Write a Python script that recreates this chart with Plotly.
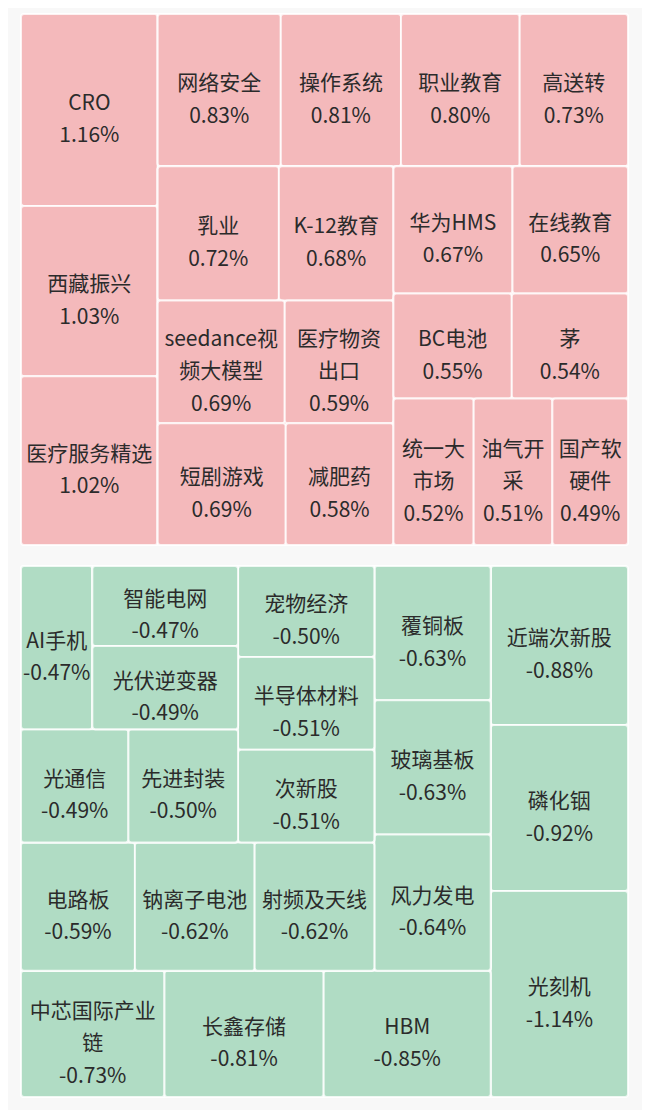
import plotly.graph_objects as go

# ---------------- data ----------------
top_names = ["CRO", "西藏振兴", "医疗服务精选", "网络安全", "操作系统", "职业教育", "高送转",
             "乳业", "K-12教育", "seedance视频大模型", "医疗物资出口", "短剧游戏", "减肥药",
             "华为HMS", "在线教育", "BC电池", "茅", "统一大市场", "油气开采", "国产软硬件"]
top_values = [1.16, 1.03, 1.02, 0.83, 0.81, 0.80, 0.73,
              0.72, 0.68, 0.69, 0.59, 0.69, 0.58,
              0.67, 0.65, 0.55, 0.54, 0.52, 0.51, 0.49]

bottom_names = ["AI手机", "智能电网", "光伏逆变器", "光通信", "先进封装", "宠物经济", "半导体材料",
                "次新股", "电路板", "钠离子电池", "射频及天线", "覆铜板", "玻璃基板", "风力发电",
                "中芯国际产业链", "长鑫存储", "HBM", "近端次新股", "磷化铟", "光刻机"]
bottom_values = [-0.47, -0.47, -0.49, -0.49, -0.50, -0.50, -0.51,
                 -0.51, -0.59, -0.62, -0.62, -0.63, -0.63, -0.64,
                 -0.73, -0.81, -0.85, -0.88, -0.92, -1.14]

# grouping of the blocks (hierarchy only)
top_tree = ["CRO", "西藏振兴", "医疗服务精选",
            ["网络安全", "操作系统", "职业教育", "高送转"],
            [["乳业", "K-12教育", "seedance视频大模型", "医疗物资出口", "短剧游戏", "减肥药"],
             ["华为HMS", "在线教育", "BC电池", "茅", "统一大市场", "油气开采", "国产软硬件"]]]
bottom_tree = [[[[[[["AI手机", ["智能电网", "光伏逆变器"]], "光通信", "先进封装"],
                   "宠物经济", "半导体材料", "次新股"],
                  "电路板", "钠离子电池", "射频及天线"],
                 "覆铜板", "玻璃基板", "风力发电"],
                "中芯国际产业链", "长鑫存储", "HBM"],
               "近端次新股", "磷化铟", "光刻机"]

# wrapped display labels
wrapped = {
    "seedance视频大模型": ["seedance视", "频大模型"],
    "医疗物资出口": ["医疗物资", "出口"],
    "统一大市场": ["统一大", "市场"],
    "油气开采": ["油气开", "采"],
    "国产软硬件": ["国产软", "硬件"],
    "中芯国际产业链": ["中芯国际产业", "链"],
}

FONT = "Noto Sans CJK SC"
TXT = 21


def build(tree, names, values, prefix, color):
    val = dict(zip(names, values))
    ids, parents, labels, vals, texts, colors = [], [], [], [], [], []
    counter = [0]

    def add_group(node, gid, parent):
        ids.append(gid); parents.append(parent); labels.append(""); vals.append(0)
        texts.append(""); colors.append(color)
        for child in node:
            if isinstance(child, list):
                counter[0] += 1
                add_group(child, f"{prefix}_g{counter[0]}", gid)
            else:
                v = val[child]
                lines = wrapped.get(child, [child])
                # tiny spacer line (same colour as the tile) to sit the text a bit lower
                parts = [f"<span style='font-size:5px;color:{color}'>.</span>"]
                parts += [f"<span style='font-size:{TXT}px'>{l}</span>" for l in lines]
                parts.append(f"<span style='font-size:{TXT}px'>{v:.2f}%</span>")
                ids.append(child); parents.append(gid); labels.append(child)
                vals.append(abs(v)); texts.append("<br>".join(parts)); colors.append(color)

    add_group(tree, prefix, "")
    return ids, parents, labels, vals, texts, colors


def make_trace(tree, names, values, prefix, color, ydom):
    ids, parents, labels, vals, texts, colors = build(tree, names, values, prefix, color)
    return go.Treemap(
        ids=ids, parents=parents, labels=labels, values=vals, text=texts,
        branchvalues="remainder", sort=False,
        texttemplate="%{text}", textposition="middle center",
        textfont=dict(family=FONT, size=25, color="#2b2b2b"),
        marker=dict(colors=colors, line=dict(color="rgba(255,255,255,0.8)", width=2),
                    pad=dict(t=0, l=0, r=0, b=0), cornerradius=3, depthfade=False),
        tiling=dict(pad=0, packing="squarify"),
        pathbar=dict(visible=False),
        hoverinfo="skip",
        domain=dict(x=[0, 1], y=ydom),
    )


fig = go.Figure()
fig.add_trace(make_trace(top_tree, top_names, top_values, "top", "#f4b9bb", [0.5097, 1.0]))
fig.add_trace(make_trace(bottom_tree, bottom_names, bottom_values, "bot", "#b0dcc4", [0.0, 0.4903]))

fig.update_layout(
    width=650, height=1110,
    margin=dict(l=13, r=30, t=6, b=21),
    paper_bgcolor="#f8f8f8",
    uniformtext=dict(minsize=25, mode="show"),
    font=dict(family=FONT, color="#2b2b2b"),
    showlegend=False,
)

fig.write_html("out.html")
